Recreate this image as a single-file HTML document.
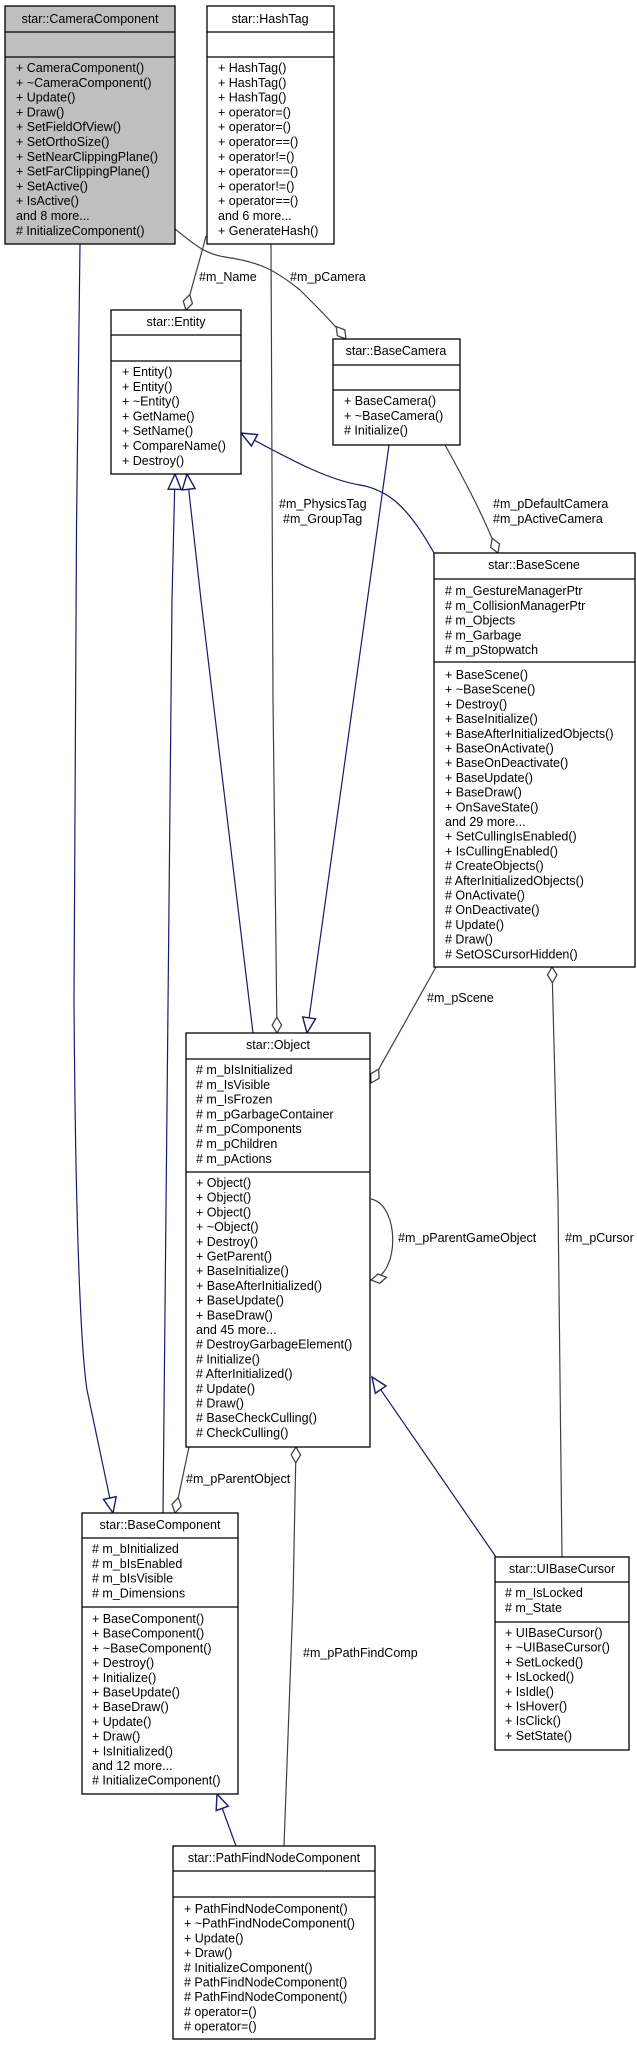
<!DOCTYPE html>
<html><head><meta charset="utf-8"><style>
html,body{margin:0;padding:0;background:#fff;}
svg{display:block;}
text{font-family:"Liberation Sans",Arial,sans-serif;font-size:12.5px;fill:#000;dominant-baseline:central;}
.t{text-anchor:middle;}
.b{fill:#fff;stroke:#000;stroke-width:1.3;}
.g{fill:#bfbfbf;stroke:#000;stroke-width:1.3;}
.s{stroke:#000;stroke-width:1.3;}
.inh{fill:none;stroke:#191970;stroke-width:1.2;}
.agg{fill:none;stroke:#404040;stroke-width:1.2;}
</style></head><body>
<svg width="637" height="2045" viewBox="0 0 637 2045" xmlns="http://www.w3.org/2000/svg">
<defs>
<marker id="tri" markerUnits="userSpaceOnUse" markerWidth="20" markerHeight="20" viewBox="-15 -8 17 16" refX="0" refY="0" orient="auto">
<path d="M0,0 L-13,-5.5 L-13,5.5 Z" fill="#fff" stroke="#191970" stroke-width="1.2"/>
</marker>
<marker id="dia" markerUnits="userSpaceOnUse" markerWidth="20" markerHeight="20" viewBox="-17 -8 19 16" refX="0" refY="0" orient="auto">
<path d="M0,0 L-7.5,-4.5 L-15,0 L-7.5,4.5 Z" fill="#fff" stroke="#404040" stroke-width="1.2"/>
</marker>
</defs>

<!-- inheritance connectors -->
<path class="inh" d="M80,244 C76,500 73,900 74,1000 C76,1300 84,1370 87,1390 L113,1513" marker-end="url(#tri)"/>
<path class="inh" d="M163,1513 L172,600 L175,474" marker-end="url(#tri)"/>
<path class="inh" d="M253,1033 L201,600 L187,474" marker-end="url(#tri)"/>
<path class="inh" d="M434,553 C410,510 390,490 360,485 C330,480 300,465 241,433" marker-end="url(#tri)"/>
<path class="inh" d="M389,445 L307,1033" marker-end="url(#tri)"/>
<path class="inh" d="M496,1557 L372,1377" marker-end="url(#tri)"/>
<path class="inh" d="M236,1846 L217,1794" marker-end="url(#tri)"/>

<!-- aggregation connectors -->
<path class="agg" d="M206,236 C200,260 192,285 186,310" marker-end="url(#dia)"/>
<path class="agg" d="M175,229 C195,245 205,254 225,257 C260,262 275,270 300,290 C320,310 335,325 346,339" marker-end="url(#dia)"/>
<path class="agg" d="M271,244 L273,700 L277,1033" marker-end="url(#dia)"/>
<path class="agg" d="M445,445 C470,490 485,520 498,553" marker-end="url(#dia)"/>
<path class="agg" d="M436,967 L371,1083" marker-end="url(#dia)"/>
<path class="agg" d="M562,1557 L558,1200 L552,967" marker-end="url(#dia)"/>
<path class="agg" d="M371,1199 C400,1205 400,1275 371,1280" marker-end="url(#dia)"/>
<path class="agg" d="M189,1447 L175,1513" marker-end="url(#dia)"/>
<path class="agg" d="M284,1846 L293,1600 L296,1447" marker-end="url(#dia)"/>

<!-- connector labels -->
<text x="199" y="277">#m_Name</text>
<text x="290" y="277">#m_pCamera</text>
<text x="279" y="504">#m_PhysicsTag</text>
<text x="283" y="519">#m_GroupTag</text>
<text x="493" y="504">#m_pDefaultCamera</text>
<text x="493" y="519">#m_pActiveCamera</text>
<text x="427" y="998">#m_pScene</text>
<text x="398" y="1238">#m_pParentGameObject</text>
<text x="565" y="1238">#m_pCursor</text>
<text x="186" y="1479">#m_pParentObject</text>
<text x="303" y="1653">#m_pPathFindComp</text>

<!-- CameraComponent -->
<rect class="g" x="5" y="6" width="170" height="238"/>
<line class="s" x1="5" y1="32" x2="175" y2="32"/><line class="s" x1="5" y1="57" x2="175" y2="57"/>
<text class="t" x="90" y="19">star::CameraComponent</text>
<text x="16" y="68">+ CameraComponent()</text>
<text x="16" y="82.8">+ ~CameraComponent()</text>
<text x="16" y="97.6">+ Update()</text>
<text x="16" y="112.4">+ Draw()</text>
<text x="16" y="127.2">+ SetFieldOfView()</text>
<text x="16" y="142">+ SetOrthoSize()</text>
<text x="16" y="156.8">+ SetNearClippingPlane()</text>
<text x="16" y="171.6">+ SetFarClippingPlane()</text>
<text x="16" y="186.4">+ SetActive()</text>
<text x="16" y="201.2">+ IsActive()</text>
<text x="16" y="216">and 8 more...</text>
<text x="16" y="230.8"># InitializeComponent()</text>

<!-- HashTag -->
<rect class="b" x="207" y="6" width="127" height="238"/>
<line class="s" x1="207" y1="32" x2="334" y2="32"/><line class="s" x1="207" y1="57" x2="334" y2="57"/>
<text class="t" x="270" y="19">star::HashTag</text>
<text x="218" y="68">+ HashTag()</text>
<text x="218" y="82.8">+ HashTag()</text>
<text x="218" y="97.6">+ HashTag()</text>
<text x="218" y="112.4">+ operator=()</text>
<text x="218" y="127.2">+ operator=()</text>
<text x="218" y="142">+ operator==()</text>
<text x="218" y="156.8">+ operator!=()</text>
<text x="218" y="171.6">+ operator==()</text>
<text x="218" y="186.4">+ operator!=()</text>
<text x="218" y="201.2">+ operator==()</text>
<text x="218" y="216">and 6 more...</text>
<text x="218" y="230.8">+ GenerateHash()</text>

<!-- Entity -->
<rect class="b" x="111" y="310" width="130" height="164"/>
<line class="s" x1="111" y1="335" x2="241" y2="335"/><line class="s" x1="111" y1="361" x2="241" y2="361"/>
<text class="t" x="176" y="322">star::Entity</text>
<text x="122" y="372">+ Entity()</text>
<text x="122" y="386.8">+ Entity()</text>
<text x="122" y="401.6">+ ~Entity()</text>
<text x="122" y="416.4">+ GetName()</text>
<text x="122" y="431.2">+ SetName()</text>
<text x="122" y="446">+ CompareName()</text>
<text x="122" y="460.8">+ Destroy()</text>

<!-- BaseCamera -->
<rect class="b" x="333" y="339" width="127" height="106"/>
<line class="s" x1="333" y1="365" x2="460" y2="365"/><line class="s" x1="333" y1="390" x2="460" y2="390"/>
<text class="t" x="396" y="351">star::BaseCamera</text>
<text x="344" y="401">+ BaseCamera()</text>
<text x="344" y="415.8">+ ~BaseCamera()</text>
<text x="344" y="430.6"># Initialize()</text>

<!-- BaseScene -->
<rect class="b" x="434" y="553" width="201" height="414"/>
<line class="s" x1="434" y1="579" x2="635" y2="579"/><line class="s" x1="434" y1="662" x2="635" y2="662"/>
<text class="t" x="534" y="565">star::BaseScene</text>
<text x="445" y="591"># m_GestureManagerPtr</text>
<text x="445" y="605.8"># m_CollisionManagerPtr</text>
<text x="445" y="620.6"># m_Objects</text>
<text x="445" y="635.4"># m_Garbage</text>
<text x="445" y="650.2"># m_pStopwatch</text>
<text x="445" y="675">+ BaseScene()</text>
<text x="445" y="689.7">+ ~BaseScene()</text>
<text x="445" y="704.4">+ Destroy()</text>
<text x="445" y="719.1">+ BaseInitialize()</text>
<text x="445" y="733.8">+ BaseAfterInitializedObjects()</text>
<text x="445" y="748.5">+ BaseOnActivate()</text>
<text x="445" y="763.2">+ BaseOnDeactivate()</text>
<text x="445" y="777.9">+ BaseUpdate()</text>
<text x="445" y="792.6">+ BaseDraw()</text>
<text x="445" y="807.3">+ OnSaveState()</text>
<text x="445" y="822">and 29 more...</text>
<text x="445" y="836.7">+ SetCullingIsEnabled()</text>
<text x="445" y="851.4">+ IsCullingEnabled()</text>
<text x="445" y="866.1"># CreateObjects()</text>
<text x="445" y="880.8"># AfterInitializedObjects()</text>
<text x="445" y="895.5"># OnActivate()</text>
<text x="445" y="910.2"># OnDeactivate()</text>
<text x="445" y="924.9"># Update()</text>
<text x="445" y="939.6"># Draw()</text>
<text x="445" y="954.3"># SetOSCursorHidden()</text>

<!-- Object -->
<rect class="b" x="186" y="1033" width="184" height="414"/>
<line class="s" x1="186" y1="1059" x2="370" y2="1059"/><line class="s" x1="186" y1="1172" x2="370" y2="1172"/>
<text class="t" x="278" y="1045">star::Object</text>
<text x="196" y="1070"># m_bIsInitialized</text>
<text x="196" y="1084.8"># m_IsVisible</text>
<text x="196" y="1099.6"># m_IsFrozen</text>
<text x="196" y="1114.4"># m_pGarbageContainer</text>
<text x="196" y="1129.2"># m_pComponents</text>
<text x="196" y="1144"># m_pChildren</text>
<text x="196" y="1158.8"># m_pActions</text>
<text x="196" y="1183">+ Object()</text>
<text x="196" y="1197.7">+ Object()</text>
<text x="196" y="1212.4">+ Object()</text>
<text x="196" y="1227.1">+ ~Object()</text>
<text x="196" y="1241.8">+ Destroy()</text>
<text x="196" y="1256.5">+ GetParent()</text>
<text x="196" y="1271.2">+ BaseInitialize()</text>
<text x="196" y="1285.9">+ BaseAfterInitialized()</text>
<text x="196" y="1300.6">+ BaseUpdate()</text>
<text x="196" y="1315.3">+ BaseDraw()</text>
<text x="196" y="1330">and 45 more...</text>
<text x="196" y="1344.7"># DestroyGarbageElement()</text>
<text x="196" y="1359.4"># Initialize()</text>
<text x="196" y="1374.1"># AfterInitialized()</text>
<text x="196" y="1388.8"># Update()</text>
<text x="196" y="1403.5"># Draw()</text>
<text x="196" y="1418.2"># BaseCheckCulling()</text>
<text x="196" y="1432.9"># CheckCulling()</text>

<!-- BaseComponent -->
<rect class="b" x="82" y="1513" width="156" height="281"/>
<line class="s" x1="82" y1="1538" x2="238" y2="1538"/><line class="s" x1="82" y1="1607" x2="238" y2="1607"/>
<text class="t" x="160" y="1525">star::BaseComponent</text>
<text x="92" y="1549"># m_bInitialized</text>
<text x="92" y="1563.8"># m_bIsEnabled</text>
<text x="92" y="1578.6"># m_bIsVisible</text>
<text x="92" y="1593.4"># m_Dimensions</text>
<text x="92" y="1619">+ BaseComponent()</text>
<text x="92" y="1633.7">+ BaseComponent()</text>
<text x="92" y="1648.4">+ ~BaseComponent()</text>
<text x="92" y="1663.1">+ Destroy()</text>
<text x="92" y="1677.8">+ Initialize()</text>
<text x="92" y="1692.5">+ BaseUpdate()</text>
<text x="92" y="1707.2">+ BaseDraw()</text>
<text x="92" y="1721.9">+ Update()</text>
<text x="92" y="1736.6">+ Draw()</text>
<text x="92" y="1751.3">+ IsInitialized()</text>
<text x="92" y="1766">and 12 more...</text>
<text x="92" y="1780.7"># InitializeComponent()</text>

<!-- UIBaseCursor -->
<rect class="b" x="495" y="1557" width="134" height="193"/>
<line class="s" x1="495" y1="1582" x2="629" y2="1582"/><line class="s" x1="495" y1="1622" x2="629" y2="1622"/>
<text class="t" x="562" y="1569">star::UIBaseCursor</text>
<text x="505" y="1593"># m_IsLocked</text>
<text x="505" y="1608"># m_State</text>
<text x="505" y="1633">+ UIBaseCursor()</text>
<text x="505" y="1647.7">+ ~UIBaseCursor()</text>
<text x="505" y="1662.4">+ SetLocked()</text>
<text x="505" y="1677.1">+ IsLocked()</text>
<text x="505" y="1691.8">+ IsIdle()</text>
<text x="505" y="1706.5">+ IsHover()</text>
<text x="505" y="1721.2">+ IsClick()</text>
<text x="505" y="1735.9">+ SetState()</text>

<!-- PathFindNodeComponent -->
<rect class="b" x="173" y="1846" width="202" height="193"/>
<line class="s" x1="173" y1="1871" x2="375" y2="1871"/><line class="s" x1="173" y1="1897" x2="375" y2="1897"/>
<text class="t" x="274" y="1858">star::PathFindNodeComponent</text>
<text x="184" y="1909">+ PathFindNodeComponent()</text>
<text x="184" y="1923.7">+ ~PathFindNodeComponent()</text>
<text x="184" y="1938.4">+ Update()</text>
<text x="184" y="1953.1">+ Draw()</text>
<text x="184" y="1967.8"># InitializeComponent()</text>
<text x="184" y="1982.5"># PathFindNodeComponent()</text>
<text x="184" y="1997.2"># PathFindNodeComponent()</text>
<text x="184" y="2011.9"># operator=()</text>
<text x="184" y="2026.6"># operator=()</text>
</svg>
</body></html>
